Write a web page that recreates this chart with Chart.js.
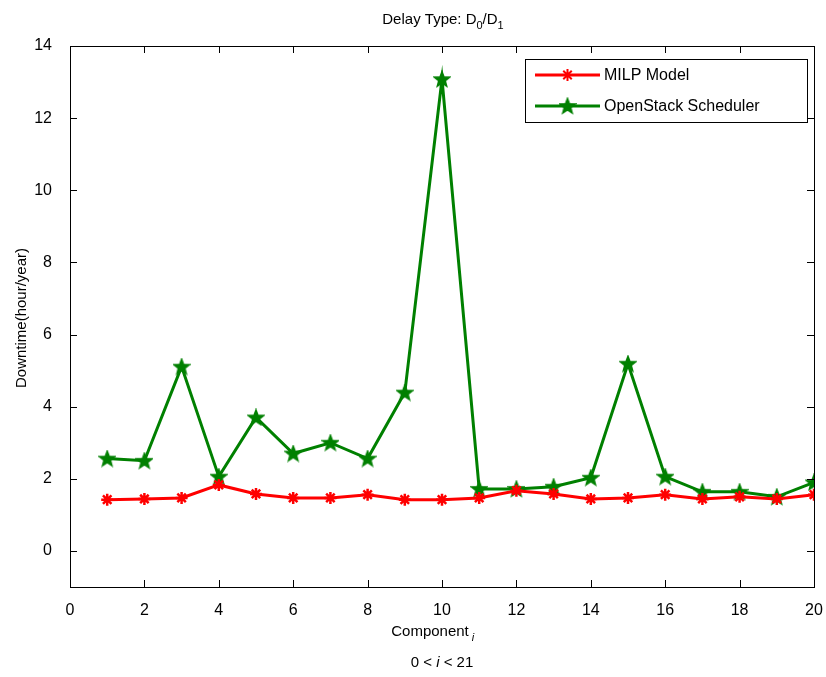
<!DOCTYPE html>
<html>
<head>
<meta charset="utf-8">
<script src="https://cdn.jsdelivr.net/npm/chart.js@4.4.0/dist/chart.umd.min.js"></script>
<style>
  html, body { margin: 0; padding: 0; background: #fff; }
  #wrap { width: 826px; height: 677px; }
</style>
</head>
<body>
<div id="wrap"><canvas id="downtime"></canvas></div>
<script>
const components = [1, 2, 3, 4, 5, 6, 7, 8, 9, 10, 11, 12, 13, 14, 15, 16, 17, 18, 19, 20];
const milp = [1.42, 1.44, 1.47, 1.83, 1.58, 1.47, 1.47, 1.56, 1.42, 1.42, 1.47, 1.67, 1.58, 1.44, 1.47, 1.56, 1.44, 1.5, 1.44, 1.56];
const openstack = [2.56, 2.5, 5.11, 2.06, 3.7, 2.7, 3.0, 2.56, 4.39, 13.08, 1.72, 1.72, 1.78, 2.03, 5.19, 2.06, 1.64, 1.64, 1.5, 1.9];
const xTicks = [0, 2, 4, 6, 8, 10, 12, 14, 16, 18, 20];
const yTicks = [0, 2, 4, 6, 8, 10, 12, 14];

const RED = '#ff0000';
const GREEN = '#008000';
const FONT = '"Liberation Sans", Arial, sans-serif';

// filled pentagram marker (MATLAB 'p')
function pentagram(size, color) {
  const c = document.createElement('canvas');
  c.width = size; c.height = size;
  const g = c.getContext('2d');
  const cx = size / 2, cy = size / 2 + 0.5, R = size / 2 - 1, r = R * 0.42;
  g.beginPath();
  for (let i = 0; i < 10; i++) {
    const rad = i % 2 === 0 ? R : r;
    const a = -Math.PI / 2 + i * Math.PI / 5;
    const px = cx + rad * Math.cos(a), py = cy + rad * Math.sin(a);
    if (i === 0) g.moveTo(px, py); else g.lineTo(px, py);
  }
  g.closePath();
  g.fillStyle = color;
  g.fill();
  g.lineWidth = 1.5;
  g.strokeStyle = color;
  g.stroke();
  return c;
}
const greenStar = pentagram(18, GREEN);

const decor = {
  id: 'decor',
  afterDraw(chart) {
    const ctx = chart.ctx;
    const a = chart.chartArea;
    const xs = chart.scales.x, ys = chart.scales.y;
    ctx.save();
    // axes box
    ctx.strokeStyle = '#000';
    ctx.lineWidth = 1;
    ctx.strokeRect(Math.round(a.left) + 0.5, Math.round(a.top) + 0.5, Math.round(a.right - a.left), Math.round(a.bottom - a.top));
    // inward ticks on all sides
    ctx.beginPath();
    xTicks.forEach(v => {
      const x = Math.round(xs.getPixelForValue(v)) + 0.5;
      ctx.moveTo(x, a.bottom); ctx.lineTo(x, a.bottom - 7);
      ctx.moveTo(x, a.top); ctx.lineTo(x, a.top + 7);
    });
    yTicks.forEach(v => {
      const y = Math.round(ys.getPixelForValue(v)) + 0.5;
      ctx.moveTo(a.left, y); ctx.lineTo(a.left + 7, y);
      ctx.moveTo(a.right, y); ctx.lineTo(a.right - 7, y);
    });
    ctx.stroke();

    // title with subscripts
    ctx.fillStyle = '#000';
    ctx.textBaseline = 'alphabetic';
    const parts = [['Delay Type: D', 15, 0], ['0', 11, 5], ['/D', 15, 0], ['1', 11, 5]];
    let total = 0;
    parts.forEach(p => { ctx.font = p[1] + 'px ' + FONT; total += ctx.measureText(p[0]).width; });
    let tx = 443 - total / 2;
    parts.forEach(p => {
      ctx.font = p[1] + 'px ' + FONT;
      ctx.fillText(p[0], tx, 24 + p[2]);
      tx += ctx.measureText(p[0]).width;
    });

    // x axis label
    ctx.font = '15px ' + FONT;
    const comp = 'Component';
    const cw = ctx.measureText(comp).width;
    ctx.fillText(comp, 430 - cw / 2, 636);
    ctx.font = 'italic 11px ' + FONT;
    ctx.fillText('i', 430 + cw / 2 + 3, 641);
    // range line
    const r1 = '0 < ', r2 = 'i', r3 = ' < 21';
    ctx.font = '15px ' + FONT;
    const w1 = ctx.measureText(r1).width, w3 = ctx.measureText(r3).width;
    ctx.font = 'italic 15px ' + FONT;
    const w2 = ctx.measureText(r2).width;
    let rx = 442 - (w1 + w2 + w3) / 2;
    ctx.font = '15px ' + FONT;
    ctx.fillText(r1, rx, 667); rx += w1;
    ctx.font = 'italic 15px ' + FONT;
    ctx.fillText(r2, rx, 667); rx += w2;
    ctx.font = '15px ' + FONT;
    ctx.fillText(r3, rx, 667);

    // y axis label
    ctx.save();
    ctx.translate(26, 318);
    ctx.rotate(-Math.PI / 2);
    ctx.textAlign = 'center';
    ctx.font = '15px ' + FONT;
    ctx.fillText('Downtime(hour/year)', 0, 0);
    ctx.restore();

    // legend box inside the axes
    const lx = 525, ly = 59, lw = 282, lh = 63;
    ctx.fillStyle = '#fff';
    ctx.fillRect(lx, ly, lw, lh);
    ctx.strokeStyle = '#000';
    ctx.lineWidth = 1;
    ctx.strokeRect(lx + 0.5, ly + 0.5, lw, lh);
    const rows = [
      { label: 'MILP Model', color: RED, y: 75, marker: 'ast' },
      { label: 'OpenStack Scheduler', color: GREEN, y: 106, marker: 'pent' }
    ];
    rows.forEach(r => {
      ctx.strokeStyle = r.color;
      ctx.lineWidth = 3;
      ctx.beginPath();
      ctx.moveTo(535, r.y); ctx.lineTo(600, r.y);
      ctx.stroke();
      if (r.marker === 'pent') {
        ctx.drawImage(greenStar, 567.5 - 9, r.y - 9);
      } else {
        ctx.lineWidth = 2;
        ctx.beginPath();
        for (let k = 0; k < 4; k++) {
          const ang = k * Math.PI / 4;
          ctx.moveTo(567.5 - 6 * Math.cos(ang), r.y - 6 * Math.sin(ang));
          ctx.lineTo(567.5 + 6 * Math.cos(ang), r.y + 6 * Math.sin(ang));
        }
        ctx.stroke();
      }
      ctx.fillStyle = '#000';
      ctx.font = '16px ' + FONT;
      ctx.textBaseline = 'middle';
      ctx.fillText(r.label, 604, r.y + 1);
    });
    ctx.restore();
  }
};

const chart = new Chart(document.getElementById('downtime').getContext('2d'), {
  type: 'line',
  data: {
    datasets: [{
      label: 'MILP Model',
      data: components.map((c, i) => ({ x: c, y: milp[i] })),
      borderColor: RED,
      backgroundColor: RED,
      borderWidth: 3,
      pointStyle: 'star',
      pointRadius: 6,
      pointBorderWidth: 2.5,
      tension: 0
    }, {
      label: 'OpenStack Scheduler',
      data: components.map((c, i) => ({ x: c, y: openstack[i] })),
      borderColor: GREEN,
      backgroundColor: GREEN,
      borderWidth: 3,
      pointStyle: greenStar,
      pointRadius: 9,
      tension: 0
    }]
  },
  options: {
    responsive: true,
    maintainAspectRatio: false,
    animation: false,
    layout: { padding: { top: 46, right: 10, left: 0, bottom: 0 } },
    plugins: {
      legend: { display: false },
      title: { display: false },
      tooltip: { enabled: false }
    },
    scales: {
      x: {
        type: 'linear',
        min: 0,
        max: 20,
        afterBuildTicks: s => { s.ticks = xTicks.map(v => ({ value: v })); },
        afterFit: s => { s.height = 90; s.paddingLeft = 0; s.paddingRight = 0; },
        grid: { display: false },
        border: { display: false },
        ticks: { color: '#000', padding: 6, font: { family: FONT, size: 16 } }
      },
      y: {
        min: -1,
        max: 14,
        afterBuildTicks: s => { s.ticks = yTicks.map(v => ({ value: v })); },
        afterFit: s => { s.width = 70; s.paddingTop = 0; s.paddingBottom = 0; },
        grid: { display: false },
        border: { display: false },
        ticks: { color: '#000', padding: 10, font: { family: FONT, size: 16 } }
      }
    }
  },
  plugins: [decor]
});
</script>
</body>
</html>
